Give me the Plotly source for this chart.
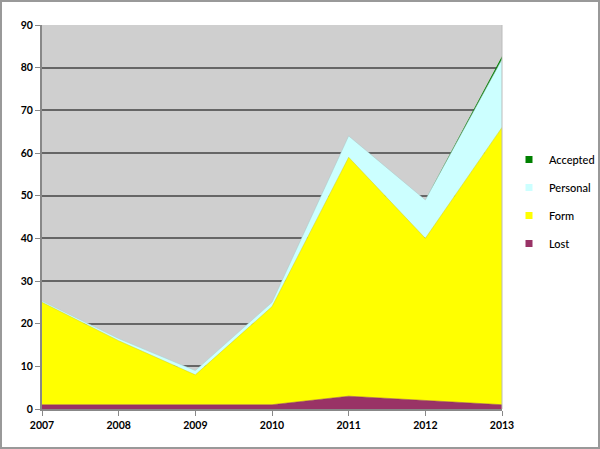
import plotly.graph_objects as go

years = [2007, 2008, 2009, 2010, 2011, 2012, 2013]
lost = [1, 1, 1, 1, 3, 2, 1]
form = [24, 15, 7, 23, 56, 38, 65]
personal = [0.3, 0.5, 1, 1, 5, 9, 16]
accepted = [0, 0, 0, 0, 0, 0, 0.7]

series = [
    ("Lost", lost, "#993366", "#8a2d5c", 0.5),
    ("Form", form, "#ffff00", "#d8d800", 0.5),
    ("Personal", personal, "#ccffff", "#a8c8c8", 0.5),
    ("Accepted", accepted, "#008000", "#008000", 0),
]

fig = go.Figure()
for name, vals, fill, line, lw in series:
    fig.add_trace(go.Scatter(
        x=years, y=vals, name=name, mode="lines", stackgroup="one",
        fillcolor=fill, line=dict(color=line, width=lw),
        showlegend=False, hoverinfo="x+y+name",
    ))

# legend entries with square markers (top to bottom: Accepted, Personal, Form, Lost)
for rank, (name, vals, fill, line, lw) in enumerate(reversed(series)):
    fig.add_trace(go.Scatter(
        x=[None], y=[None], name=name, mode="markers",
        marker=dict(symbol="square", size=7, color=fill),
        legendgroup=name, legendrank=rank + 1, showlegend=True,
    ))

font = dict(family="Lato, 'DejaVu Sans', sans-serif", size=10.5, color="#000", weight=700)

fig.update_layout(
    width=600, height=449,
    margin=dict(l=42, r=98, t=25, b=40, autoexpand=False),
    paper_bgcolor="#ffffff",
    plot_bgcolor="#cfcfcf",
    font=font,
    showlegend=True,
    legend=dict(
        x=(509 - 42) / 460, y=(409 - 145) / 384, xanchor="left", yanchor="top",
        traceorder="grouped", tracegroupgap=9,
        font=dict(family="Lato, 'DejaVu Sans', sans-serif", size=11, color="#000", weight=500),
        itemwidth=30, bgcolor="rgba(0,0,0,0)",
    ),
    xaxis=dict(
        range=[2007, 2013], tickvals=years, ticktext=[str(y) for y in years],
        showgrid=False, zeroline=False, showline=True, linecolor="#888", linewidth=2,
        ticks="outside", ticklen=5, tickcolor="#888",
    ),
    yaxis=dict(
        range=[0, 90], dtick=10, showgrid=True, gridcolor="#666", gridwidth=1.5,
        zeroline=False, showline=True, linecolor="#888", linewidth=2,
        ticks="outside", ticklen=5, tickcolor="#888",
    ),
    shapes=[
        dict(type="rect", xref="paper", yref="paper",
             x0=(1 - 42) / 460, x1=(599 - 42) / 460,
             y0=(409 - 448) / 384, y1=(409 - 1) / 384,
             line=dict(color="#999", width=2), fillcolor="rgba(0,0,0,0)", layer="below"),
        dict(type="line", xref="paper", yref="paper", x0=1, x1=1, y0=0, y1=1,
             line=dict(color="#bbb", width=1)),
    ],
)

fig.write_html("out.html", config={"displayModeBar": False},
               post_script="document.body.style.margin='0';")
